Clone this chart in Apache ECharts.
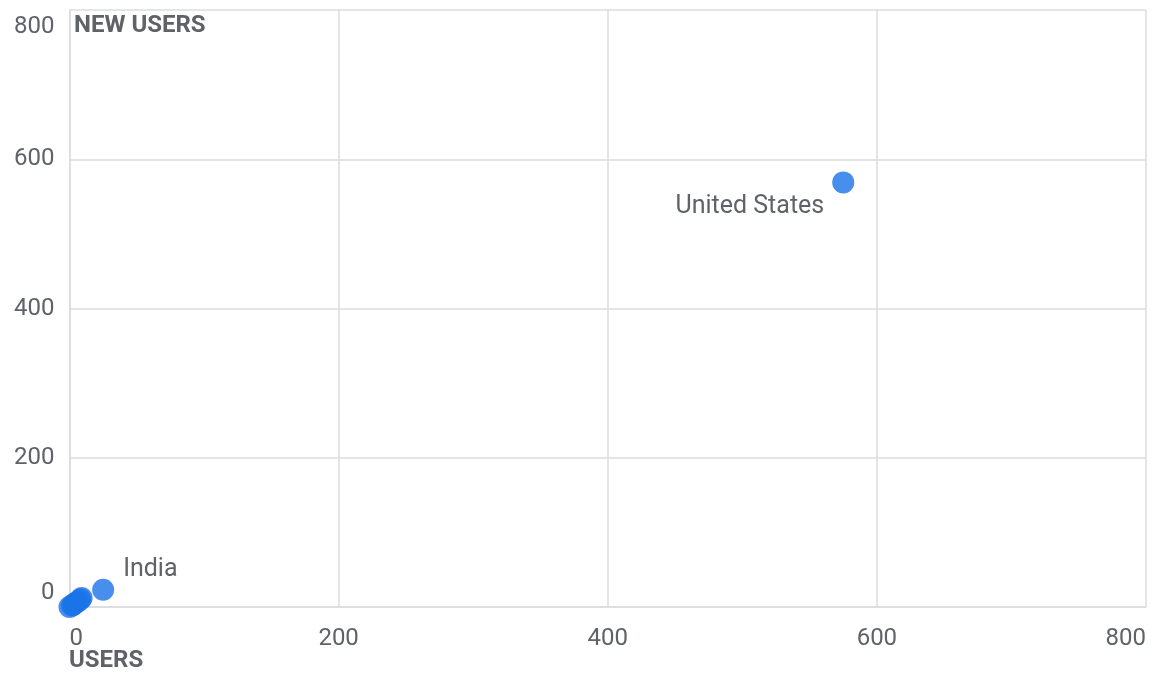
<!DOCTYPE html>
<html>
<head>
<meta charset="utf-8">
<script src="https://cdn.jsdelivr.net/npm/echarts@6/dist/echarts.min.js"></script>
<style>
html,body{margin:0;padding:0;background:#fff;}
#c{width:1159px;height:677px;}
</style>
</head>
<body>
<div id="c"></div>
<script>
// Data
const countries = ['United States', 'India', '', '', '', '', '', '', ''];
const users     = [575, 25, 9, 8, 6, 4, 3, 2, 0];
const newUsers  = [569, 23, 12, 10, 7, 5, 3, 2, 0];
const axisTicks = [0, 200, 400, 600, 800];

const chart = echarts.init(document.getElementById('c'));
const FONT = 'Roboto';
const GREY = '#5f6368';
const GRID = '#dadce0';
const FS = 24;

const data = countries.map((name, i) => {
  const d = { name: name, value: [users[i], newUsers[i]] };
  if (name === 'United States') {
    d.label = { show: true, position: 'left', distance: 8, offset: [0, 24] };
  } else if (name === 'India') {
    d.label = { show: true, position: 'right', distance: 9, offset: [0, -20] };
  }
  return d;
});

chart.setOption({
  animation: false,
  textStyle: { fontFamily: FONT },
  grid: { left: 69.5, right: 13, top: 10, bottom: 70, containLabel: false },
  xAxis: {
    type: 'value',
    min: axisTicks[0], max: axisTicks[axisTicks.length - 1], interval: 200,
    axisLine: { show: true, lineStyle: { color: GRID, width: 1.5 } },
    axisTick: { show: false },
    splitLine: { lineStyle: { color: GRID, width: 1.5 } },
    axisLabel: { color: GREY, fontSize: FS, margin: 20, fontFamily: FONT,
                 alignMinLabel: 'left', alignMaxLabel: 'right' }
  },
  yAxis: {
    type: 'value',
    min: axisTicks[0], max: axisTicks[axisTicks.length - 1], interval: 200,
    axisLine: { show: true, lineStyle: { color: GRID, width: 1.5 } },
    axisTick: { show: false },
    splitLine: { lineStyle: { color: GRID, width: 1.5 } },
    axisLabel: {
      color: GREY, fontSize: FS, margin: 15, fontFamily: FONT,
      formatter: v => v === 800 ? '{t|800}' : (v === 0 ? '{b|0}' : String(v)),
      rich: {
        t: { fontSize: FS, color: GREY, fontFamily: FONT, padding: [34, 0, 0, 0] },
        b: { fontSize: FS, color: GREY, fontFamily: FONT, padding: [0, 0, 29, 0] }
      }
    }
  },
  graphic: [
    { type: 'text', left: 74, top: 14,
      style: { text: 'NEW USERS', fill: GREY, font: 'bold 24px Roboto' } },
    { type: 'text', left: 69, top: 649,
      style: { text: 'USERS', fill: GREY, font: 'bold 24px Roboto' } }
  ],
  series: [{
    type: 'scatter',
    clip: false,
    symbolSize: 22,
    itemStyle: { color: '#1a73e8', opacity: 0.8 },
    label: { show: false, color: GREY, opacity: 1, fontSize: 25, fontFamily: FONT,
             formatter: p => p.name },
    data: data
  }]
});
</script>
</body>
</html>
